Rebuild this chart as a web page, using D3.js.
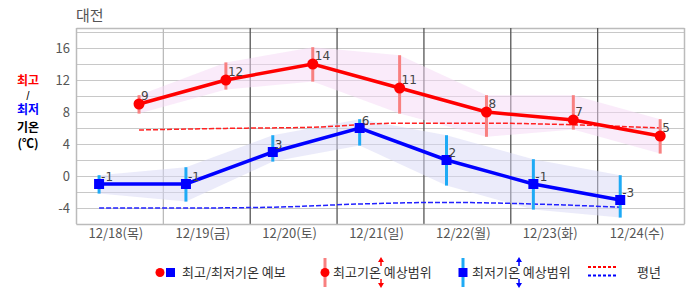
<!DOCTYPE html>
<html><head><meta charset="utf-8">
<script src="https://cdn.jsdelivr.net/npm/d3@7"></script>
<style>body{margin:0;background:#fff;} svg{display:block;}</style>
</head><body>
<svg id="c" width="686" height="295"></svg>
<script>
const title = "대전";
const dates = ["12/18(목)","12/19(금)","12/20(토)","12/21(일)","12/22(월)","12/23(화)","12/24(수)"];
const maxTemp = [9,12,14,11,8,7,5];
const minTemp = [-1,-1,3,6,2,-1,-3];
const maxLow  = [7.8,10.8,11.8,7.8,4.9,5.8,2.8];
const maxHigh = [10.1,14.2,16.1,15.1,10.1,10.1,7.1];
const minLow  = [-2.2,-3.2,1.8,3.8,-1.2,-4.2,-5.2];
const minHigh = [0.1,1.1,5.1,7.1,5.1,2.1,0.1];
const normMax = [5.75,5.95,6.1,6.6,6.6,6.4,6.0];
const normMin = [-4.0,-4.0,-3.9,-3.5,-3.3,-3.5,-3.9];
const yTicks = [-4,0,4,8,12,16];
const maxHour = 0.72, minHour = 0.26; // fraction of day for max/min points
const legendLabels = ["최고/최저기온 예보","최고기온 예상범위","최저기온 예상범위","평년"];

const svg = d3.select("#c");
const L=76.5, R=684.5, T=28, B=224;
const x = d3.scaleLinear().domain([0,7]).range([L,R]);
const y = d3.scaleLinear().domain([-6,18.5]).range([B,T]);
const font = "'Noto Sans CJK KR', 'Noto Sans', sans-serif";

// horizontal grid
const g = svg.append("g");
g.selectAll("line.h").data(d3.range(-6,19,2)).enter().append("line")
  .attr("x1",L).attr("x2",R).attr("y1",d=>Math.round(y(d))+0.5).attr("y2",d=>Math.round(y(d))+0.5)
  .attr("stroke","#c8c8c8").attr("stroke-width",1.2);
g.append("line").attr("x1",L).attr("x2",R).attr("y1",T+0.5).attr("y2",T+0.5).attr("stroke","#bbb").attr("stroke-width",1.5);
// vertical lines
g.selectAll("line.v").data(d3.range(0,8)).enter().append("line")
  .attr("x1",d=>x(d)).attr("x2",d=>x(d)).attr("y1",T).attr("y2",B)
  .attr("stroke",d=>(d===0||d===1||d===7)?"#bbb":"#555").attr("stroke-width",d=>(d===0||d===7)?1.5:1.3);
g.append("line").attr("x1",L).attr("x2",R).attr("y1",B+0.5).attr("y2",B+0.5).attr("stroke","#bbb").attr("stroke-width",1.5);

// y tick labels
svg.selectAll("text.yt").data(yTicks).enter().append("text")
  .attr("x",70).attr("y",d=>y(d)).attr("dy","0.35em").attr("text-anchor","end")
  .attr("font-family",font).attr("font-size",13).attr("fill","#555").text(d=>d<0?"-"+Math.abs(d):d);
// x labels
svg.selectAll("text.xt").data(dates).enter().append("text")
  .attr("x",(d,i)=>x(i+0.5)-4).attr("y",238).attr("text-anchor","middle")
  .attr("font-family",font).attr("font-size",13).attr("fill","#555").text(d=>d);
// title
svg.append("text").attr("x",76).attr("y",21).attr("font-family",font).attr("font-size",15).attr("fill","#555").text(title);

// left label
const ll = [["최고","#f00",84.5,12],["/","#000",98,9],["최저","#00f",113.5,12],["기온","#000",131.5,12],["(℃)","#000",147.5,12]];
ll.forEach(([t,c,yy,fs])=>{
  svg.append("text").attr("x",28).attr("y",yy).attr("text-anchor","middle").attr("font-family",font)
    .attr("font-size",fs).attr("font-weight","bold").attr("fill",c).text(t);
});

const xmax = i=>x(i+maxHour), xmin=i=>x(i+minHour);
const idx = d3.range(7);
// bands
svg.append("path").datum(idx).attr("fill","#f6d8f6").attr("opacity",0.5)
  .attr("d",d3.area().x(i=>xmax(i)).y0(i=>y(maxLow[i])).y1(i=>y(maxHigh[i])));
svg.append("path").datum(idx).attr("fill","#d8d8f6").attr("opacity",0.5)
  .attr("d",d3.area().x(i=>xmin(i)).y0(i=>y(minLow[i])).y1(i=>y(minHigh[i])));
// normals
svg.append("path").datum(idx).attr("fill","none").attr("stroke","#f22").attr("stroke-width",1.5)
  .attr("stroke-dasharray","5,2").attr("d",d3.line().curve(d3.curveMonotoneX).x(i=>xmax(i)).y(i=>y(normMax[i])));
svg.append("path").datum(idx).attr("fill","none").attr("stroke","#22f").attr("stroke-width",1.5)
  .attr("stroke-dasharray","5,2").attr("d",d3.line().curve(d3.curveMonotoneX).x(i=>xmin(i)).y(i=>y(normMin[i])));
// range bars
svg.selectAll("line.rmax").data(idx).enter().append("line")
  .attr("x1",xmax).attr("x2",xmax).attr("y1",i=>y(maxLow[i])).attr("y2",i=>y(maxHigh[i]))
  .attr("stroke","#f88080").attr("stroke-width",3);
svg.selectAll("line.rmin").data(idx).enter().append("line")
  .attr("x1",xmin).attr("x2",xmin).attr("y1",i=>y(minLow[i])).attr("y2",i=>y(minHigh[i]))
  .attr("stroke","#1eaaf5").attr("stroke-width",3);
// lines
svg.append("path").datum(idx).attr("fill","none").attr("stroke","#f00").attr("stroke-width",3.5)
  .attr("d",d3.line().x(i=>xmax(i)).y(i=>y(maxTemp[i])));
svg.append("path").datum(idx).attr("fill","none").attr("stroke","#00f").attr("stroke-width",3.5)
  .attr("d",d3.line().x(i=>xmin(i)).y(i=>y(minTemp[i])));
// markers
svg.selectAll("circle.m").data(idx).enter().append("circle")
  .attr("cx",xmax).attr("cy",i=>y(maxTemp[i])).attr("r",5.5).attr("fill","#f00");
svg.selectAll("rect.m").data(idx).enter().append("rect")
  .attr("x",i=>xmin(i)-5).attr("y",i=>y(minTemp[i])-5).attr("width",10).attr("height",10).attr("fill","#00f");
// value labels
svg.selectAll("text.vmax").data(idx).enter().append("text")
  .attr("x",i=>xmax(i)+2).attr("y",i=>y(maxTemp[i])-4).attr("font-family","DejaVu Sans, sans-serif")
  .attr("font-size",12).attr("fill","#444").text(i=>maxTemp[i]);
svg.selectAll("text.vmin").data(idx).enter().append("text")
  .attr("x",i=>xmin(i)+2).attr("y",i=>y(minTemp[i])-3).attr("font-family","DejaVu Sans, sans-serif")
  .attr("font-size",12).attr("fill","#444").text(i=>minTemp[i]<0?"-"+Math.abs(minTemp[i]):minTemp[i]);

// legend
const ly = 272.5;
const lg = svg.append("g").attr("font-family",font).attr("font-size",13).attr("fill","#333");
lg.append("circle").attr("cx",160).attr("cy",ly).attr("r",4.5).attr("fill","#f00");
lg.append("rect").attr("x",166).attr("y",ly-4.5).attr("width",9).attr("height",9).attr("fill","#00f");
lg.append("text").attr("x",182).attr("y",ly).attr("dy","0.35em").text(legendLabels[0]);

lg.append("line").attr("x1",325).attr("x2",325).attr("y1",258).attr("y2",287).attr("stroke","#f88080").attr("stroke-width",3);
lg.append("circle").attr("cx",325).attr("cy",ly).attr("r",4.5).attr("fill","#f00");
lg.append("text").attr("x",333).attr("y",ly).attr("dy","0.35em").text(legendLabels[1]);
function arrow(cx,col){
  lg.append("line").attr("x1",cx).attr("x2",cx).attr("y1",260).attr("y2",266).attr("stroke",col).attr("stroke-width",1.5);
  lg.append("line").attr("x1",cx).attr("x2",cx).attr("y1",279).attr("y2",285).attr("stroke",col).attr("stroke-width",1.5);
  lg.append("path").attr("d",`M${cx-3},${262}L${cx},${257}L${cx+3},${262}Z`).attr("fill",col);
  lg.append("path").attr("d",`M${cx-3},${283}L${cx},${288}L${cx+3},${283}Z`).attr("fill",col);
}
arrow(381,"#f00");

lg.append("line").attr("x1",463).attr("x2",463).attr("y1",258).attr("y2",287).attr("stroke","#1eaaf5").attr("stroke-width",3);
lg.append("rect").attr("x",458.5).attr("y",ly-4.5).attr("width",9).attr("height",9).attr("fill","#00f");
lg.append("text").attr("x",472).attr("y",ly).attr("dy","0.35em").text(legendLabels[2]);
arrow(519,"#00f");

lg.append("line").attr("x1",588).attr("x2",616).attr("y1",267).attr("y2",267).attr("stroke","#f00").attr("stroke-width",2).attr("stroke-dasharray","3,2");
lg.append("line").attr("x1",588).attr("x2",616).attr("y1",275.5).attr("y2",275.5).attr("stroke","#00f").attr("stroke-width",2).attr("stroke-dasharray","3,2");
lg.append("text").attr("x",637).attr("y",ly).attr("dy","0.35em").text(legendLabels[3]);
</script>
</body></html>
